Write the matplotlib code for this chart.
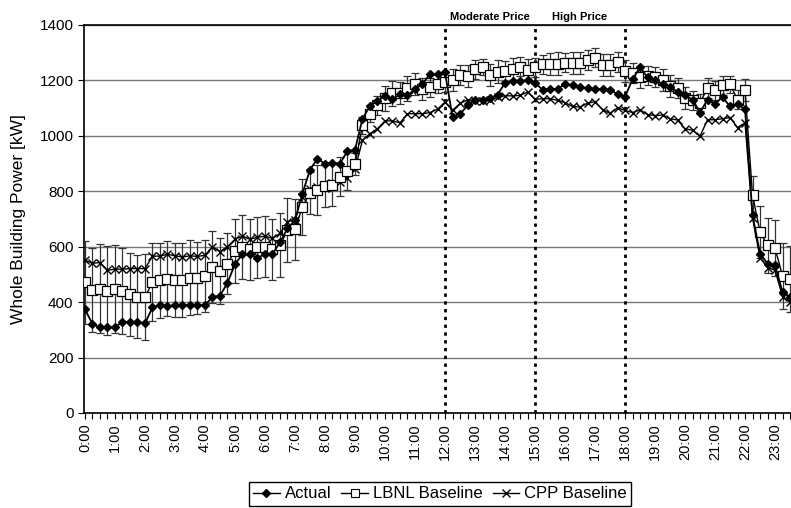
"""
Whole building power on the demand response day:
actual load vs. LBNL and CPP baselines (15-minute data)
"""

import matplotlib
matplotlib.use("Agg")
import matplotlib.pyplot as plt
from matplotlib.lines import Line2D
import numpy as np

plt.rcParams["font.family"] = ["Liberation Sans", "DejaVu Sans"]

# ============================================================
# Data (kW, one value per 15 minutes from 0:00)
# ============================================================
actual = [
    374, 321, 309, 309, 309, 329, 329, 329, 323, 381,
    389, 385, 389, 389, 389, 389, 389, 419, 423, 470,
    537, 573, 573, 560, 573, 573, 616, 666, 696, 792,
    878, 918, 899, 902, 900, 946, 949, 1062, 1108, 1125,
    1145, 1132, 1150, 1146, 1168, 1187, 1224, 1222, 1229, 1068,
    1078, 1110, 1130, 1130, 1137, 1148, 1191, 1198, 1198, 1200,
    1191, 1167, 1170, 1168, 1188, 1182, 1176, 1172, 1168, 1168,
    1167, 1150, 1141, 1204, 1247, 1212, 1200, 1188, 1176, 1160,
    1146, 1131, 1084, 1131, 1116, 1140, 1106, 1114, 1096, 714,
    575, 539, 533, 436, 419,
]

lbnl = [
    472, 444, 448, 441, 447, 439, 429, 420, 418, 472,
    479, 484, 480, 480, 488, 486, 494, 528, 513, 539,
    585, 600, 591, 598, 600, 591, 605, 660, 663, 744,
    794, 805, 819, 823, 852, 873, 897, 1038, 1080, 1110,
    1136, 1154, 1156, 1172, 1188, 1168, 1175, 1188, 1194, 1201,
    1219, 1215, 1240, 1248, 1221, 1232, 1234, 1242, 1250, 1239,
    1247, 1258, 1260, 1261, 1264, 1263, 1263, 1274, 1282, 1257,
    1257, 1266, 1234, 1227, 1211, 1217, 1212, 1203, 1180, 1172,
    1138, 1128, 1120, 1172, 1164, 1182, 1186, 1131, 1164, 786,
    653, 605, 595, 495, 483,
]

# LBNL baseline uncertainty (+/- kW)
lbnl_err = [
    150, 150, 160, 160, 160, 155, 150, 150, 155, 140,
    135, 135, 135, 135, 135, 130, 130, 130, 120, 110,
    115, 115, 110, 110, 110, 110, 115, 115, 110, 100,
    75, 90, 75, 75, 70, 70, 40, 30, 30, 35,
    45, 45, 40, 45, 40, 40, 35, 35, 35, 40,
    35, 40, 35, 30, 40, 40, 35, 40, 35, 40,
    35, 35, 40, 40, 35, 40, 40, 35, 35, 40,
    40, 35, 40, 35, 40, 35, 35, 40, 40, 35,
    40, 35, 30, 35, 35, 35, 30, 35, 40, 70,
    95, 100, 100, 120, 120,
]

cpp = [
    551, 540, 543, 515, 519, 519, 521, 521, 521, 566,
    566, 573, 567, 563, 567, 565, 569, 600, 582, 600,
    627, 638, 627, 634, 638, 630, 648, 690, 696, 780,
    810, 815, 812, 830, 835, 848, 880, 984, 1008, 1026,
    1054, 1054, 1047, 1080, 1080, 1080, 1084, 1096, 1122, 1092,
    1117, 1130, 1127, 1127, 1128, 1139, 1145, 1144, 1146, 1158,
    1132, 1134, 1134, 1128, 1120, 1106, 1104, 1118, 1123, 1095,
    1081, 1101, 1092, 1084, 1094, 1077, 1073, 1075, 1062, 1057,
    1026, 1020, 999, 1058, 1058, 1062, 1066, 1030, 1047, 705,
    560, 525, 515, 420, 400,
]

hour_labels = [f"{h}:00" for h in range(24)]
price_lines = [12, 15, 18]  # hours where price period changes
price_labels = [("Moderate Price", 12, 15), ("High Price", 15, 18)]

x = np.arange(len(actual))

# ============================================================
# Figure
# ============================================================
fig = plt.figure(figsize=(7.91, 5.08), dpi=100)
ax = fig.add_axes([84 / 791, 1 - 413 / 508, 1 - 84 / 791, (413 - 25) / 508])

ax.set_xlim(-0.13, 94.13)
ax.set_ylim(0, 1400)

# horizontal grid
ax.set_yticks(range(0, 1401, 200))
ax.yaxis.grid(True, color="#777777", linewidth=1)
ax.set_axisbelow(True)

# price period boundaries
for h in price_lines:
    ax.axvline(h * 4, color="black", linestyle=(0, (1.2, 1.6)), linewidth=2, zorder=2)
for text, h0, h1 in price_labels:
    ax.text((h0 + h1) * 2, 1412, text, ha="center", va="bottom",
            fontsize=8, fontweight="bold")

# series
ax.errorbar(x, lbnl, yerr=lbnl_err, fmt="none", ecolor="#333333",
            elinewidth=0.9, capsize=3, capthick=0.9, zorder=3)
ax.plot(x, cpp, color="black", linewidth=1, marker="x", markersize=6,
        markeredgewidth=1, zorder=4)
ax.plot(x, lbnl, color="black", linewidth=1, marker="s", markersize=6.5,
        markerfacecolor="white", markeredgecolor="black", markeredgewidth=0.9, zorder=5)
ax.plot(x, actual, color="black", linewidth=1.3, marker="D", markersize=4.5,
        markerfacecolor="black", zorder=6)

# axes styling
ax.spines["right"].set_visible(False)
ax.spines["top"].set_linewidth(1.2)
ax.spines["left"].set_linewidth(1.2)
ax.spines["bottom"].set_linewidth(1.2)

ax.set_xticks(np.arange(0, 96, 4))
ax.set_xticklabels(hour_labels, rotation=90, fontsize=10.5)
ax.set_xticks(np.arange(0, 95), minor=True)
ax.tick_params(axis="x", which="both", direction="out", length=4, width=0.8)
ax.tick_params(axis="y", direction="out", length=4, width=0.8, labelsize=11)

ax.set_ylabel("Whole Building Power [kW]", fontsize=12.5)
ax.yaxis.set_label_coords((26 - 84) / 707, 0.5)

# legend
handles = [
    Line2D([], [], color="black", lw=1, marker="D", markersize=4, markerfacecolor="black"),
    Line2D([], [], color="black", lw=1, marker="s", markersize=5.5,
           markerfacecolor="white", markeredgewidth=0.8),
    Line2D([], [], color="black", lw=1, marker="x", markersize=5.5),
]
fig.legend(handles, ["Actual", "LBNL Baseline", "CPP Baseline"],
           loc="center", bbox_to_anchor=(440 / 791, 1 - 494 / 508), ncol=3,
           fontsize=12, frameon=True, fancybox=False, edgecolor="black",
           framealpha=1, handlelength=1.6, handletextpad=0.3,
           columnspacing=0.6, borderpad=0.25)

fig.savefig("out.png", dpi=100, facecolor="white")
